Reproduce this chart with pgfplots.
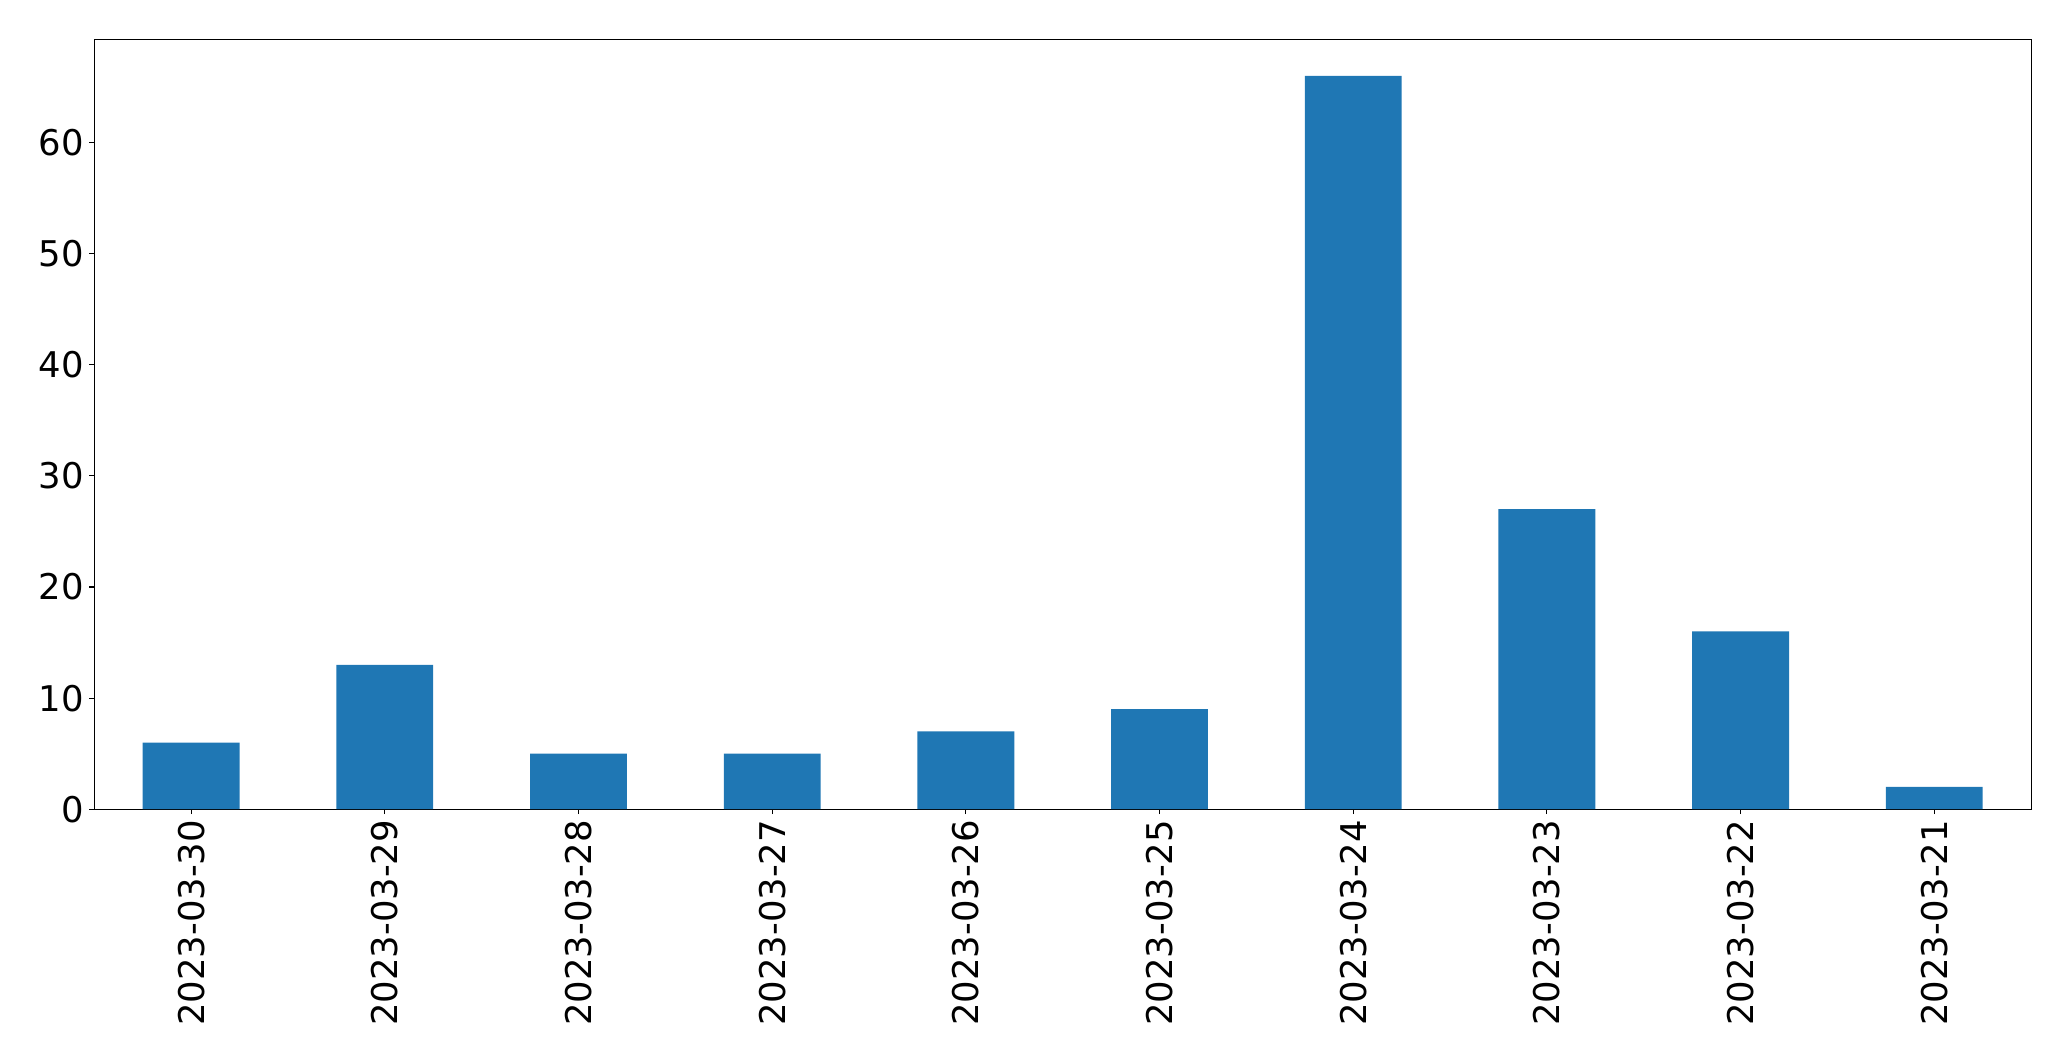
\documentclass[border=0pt]{standalone}
\usepackage{pgfplots}
\pgfplotsset{compat=1.18}
\usepackage{fontspec}
\setmainfont{DejaVu Sans}
\definecolor{mplblue}{HTML}{1F77B4}
\begin{document}
\begin{tikzpicture}
\path[use as bounding box] (-67.9pt,-181.4pt) rectangle (1423.4pt,582.7pt);
\begin{axis}[
  at={(0,0)}, anchor=south west,
  scale only axis,
  width=1394.6pt, height=554.4pt,
  xmin=-0.5, xmax=9.5,
  ymin=0, ymax=69.3,
  xtick={0,...,9},
  xticklabels={2023-03-30,2023-03-29,2023-03-28,2023-03-27,2023-03-26,2023-03-25,2023-03-24,2023-03-23,2023-03-22,2023-03-21},
  xticklabel style={rotate=90, anchor=east, font=\fontsize{25.5}{30}\selectfont, inner sep=4pt},
  ytick={0,10,20,30,40,50,60},
  yticklabel style={font=\fontsize{25.5}{30}\selectfont, inner sep=4pt},
  /pgf/number format/assume math mode=true,
  tick align=outside,
  tick pos=left,
  major tick length=3.5pt,
  axis line style={line width=0.8pt},
  every tick/.style={black, line width=0.8pt},
  ybar, bar width=0.5,
]
\addplot[fill=mplblue, draw=none, bar width=0.5] coordinates {
(0,6) (1,13) (2,5) (3,5) (4,7) (5,9) (6,66) (7,27) (8,16) (9,2)
};
\end{axis}
\end{tikzpicture}
\end{document}
